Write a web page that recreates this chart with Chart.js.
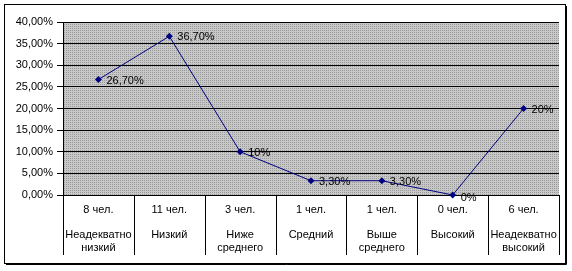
<!DOCTYPE html>
<html>
<head>
<meta charset="utf-8">
<script src="https://cdn.jsdelivr.net/npm/chart.js@4.4.1/dist/chart.umd.min.js"></script>
<style>
  body { margin: 0; background: #fff; }
  canvas { display: block; }
</style>
</head>
<body>
<canvas id="chart" width="572" height="271"></canvas>
<script>
// Chart data
const peopleCounts = ['8 чел.', '11 чел.', '3 чел.', '1 чел.', '1 чел.', '0 чел.', '6 чел.'];
const levelNames = [
  ['Неадекватно', 'низкий'],
  ['Низкий'],
  ['Ниже', 'среднего'],
  ['Средний'],
  ['Выше', 'среднего'],
  ['Высокий'],
  ['Неадекватно', 'высокий']
];
const shares = [0.267, 0.367, 0.10, 0.033, 0.033, 0, 0.20];
const shareLabels = ['26,70%', '36,70%', '10%', '3,30%', '3,30%', '0%', '20%'];
const yTicks = [0, 0.05, 0.10, 0.15, 0.20, 0.25, 0.30, 0.35, 0.40];

const FONT = '11px "Liberation Sans", Arial, sans-serif';

// Dotted grey fill like the old spreadsheet plot area
function makePattern(ctx) {
  const c = document.createElement('canvas');
  c.width = 2; c.height = 2;
  const p = c.getContext('2d');
  p.fillStyle = '#c8c8c8';
  p.fillRect(0, 0, 2, 2);
  p.fillStyle = '#9a9a9a';
  p.fillRect(0, 0, 1, 1);
  return ctx.createPattern(c, 'repeat');
}

// Plot background, outer frame and the category table under the plot
const decorPlugin = {
  id: 'decor',
  beforeDraw(chart) {
    const { ctx, chartArea: a } = chart;
    ctx.save();
    ctx.fillStyle = makePattern(ctx);
    ctx.fillRect(a.left, a.top, a.right - a.left, a.bottom - a.top);

    // outer frame with a little shadow
    ctx.strokeStyle = '#000';
    ctx.lineWidth = 1;
    ctx.strokeRect(4.5, 4.5, 561, 259);
    ctx.beginPath();
    ctx.moveTo(6, 264.5); ctx.lineTo(566.5, 264.5); ctx.lineTo(566.5, 6);
    ctx.stroke();
    ctx.restore();
  },
  afterDraw(chart) {
    const { ctx, chartArea: a } = chart;
    const x = chart.scales.x;
    const n = peopleCounts.length;
    const w = (a.right - a.left) / n;
    ctx.save();
    ctx.strokeStyle = '#000';
    ctx.lineWidth = 1;
    for (let i = 0; i <= n; i++) {
      const px = Math.round(a.left + i * w) + 0.5;
      ctx.beginPath();
      ctx.moveTo(px, a.bottom);
      ctx.lineTo(px, a.bottom + 60);
      ctx.stroke();
    }
    ctx.fillStyle = '#000';
    ctx.font = FONT;
    ctx.textAlign = 'center';
    ctx.textBaseline = 'middle';
    for (let i = 0; i < n; i++) {
      const cx = x.getPixelForValue(i);
      ctx.fillText(peopleCounts[i], cx, a.bottom + 15);
      levelNames[i].forEach((t, j) => {
        ctx.fillText(t, cx, a.bottom + 40 + j * 13);
      });
    }

    // value labels beside the points
    const meta = chart.getDatasetMeta(0);
    ctx.textAlign = 'left';
    meta.data.forEach((pt, i) => {
      ctx.fillText(shareLabels[i], pt.x + 8, pt.y + (shares[i] === 0 ? 3 : 1));
    });
    ctx.restore();
  }
};

new Chart(document.getElementById('chart'), {
  type: 'line',
  data: {
    labels: peopleCounts,
    datasets: [{
      data: shares,
      borderColor: '#000080',
      backgroundColor: '#000080',
      borderWidth: 1,
      pointStyle: 'rectRot',
      pointRadius: 3.5,
      pointBorderWidth: 0,
      tension: 0,
      clip: false
    }]
  },
  options: {
    responsive: false,
    animation: false,
    layout: { padding: { top: 22, right: 13, bottom: 76, left: 0 } },
    plugins: {
      legend: { display: false },
      tooltip: { enabled: false }
    },
    scales: {
      x: {
        type: 'category',
        offset: true,
        display: false
      },
      y: {
        min: 0,
        max: 0.4,
        afterFit(scale) { scale.width = 63; },
        afterBuildTicks(scale) { scale.ticks = yTicks.map(v => ({ value: v })); },
        ticks: {
          color: '#000',
          font: { family: '"Liberation Sans", Arial, sans-serif', size: 11 },
          padding: 4,
          callback: v => (v * 100).toFixed(2).replace('.', ',') + '%'
        },
        grid: {
          color: '#000',
          lineWidth: 1,
          tickLength: 6,
          drawTicks: true
        },
        border: { display: true, color: '#000' }
      }
    }
  },
  plugins: [decorPlugin]
});
</script>
</body>
</html>
